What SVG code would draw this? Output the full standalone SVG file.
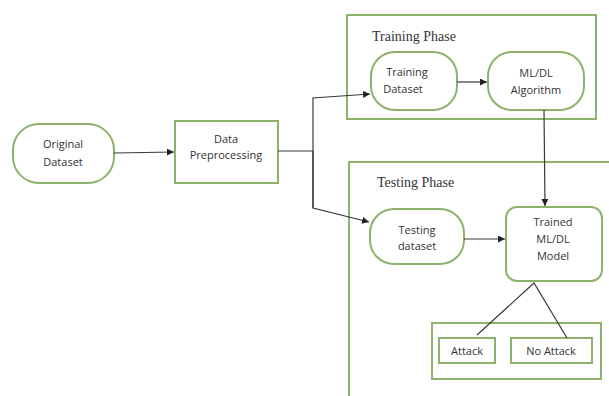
<svg xmlns="http://www.w3.org/2000/svg" width="609" height="396" viewBox="0 0 609 396">
<style>
.n{fill:#fff;stroke:#8db26b;stroke-width:2}
.c{fill:none;stroke:#3a3a3a;stroke-width:1.2}
.t{font-family:"Open Sans","Liberation Sans",sans-serif;font-size:11px;fill:#333;text-anchor:middle}
.h{font-family:"Liberation Serif",serif;font-size:14px;fill:#333}
</style>
<defs>
<marker id="a" viewBox="0 0 10 10" refX="10" refY="5" markerWidth="7" markerHeight="7" orient="auto" markerUnits="userSpaceOnUse">
<path d="M0,0L10,5L0,10z" fill="#222"/>
</marker>
</defs>
<rect width="609" height="396" fill="#fff"/>
<g id="training-phase">
<rect class="n" x="347" y="15" width="249" height="104"/>
<text class="h" x="372" y="41">Training Phase</text>
</g>
<g id="testing-phase">
<rect class="n" x="349" y="162" width="300" height="300"/>
<text class="h" x="377" y="187">Testing Phase</text>
</g>
<g id="original-dataset">
<rect class="n" x="13" y="124" width="101" height="59" rx="26"/>
<text class="t" x="63" y="148">Original</text>
<text class="t" x="63" y="166">Dataset</text>
</g>
<g id="data-preprocessing">
<rect class="n" x="175" y="121" width="103" height="62"/>
<text class="t" x="226" y="143">Data</text>
<text class="t" x="226" y="159">Preprocessing</text>
</g>
<g id="training-dataset">
<rect class="n" x="371" y="52" width="86" height="58" rx="24"/>
<text class="t" x="407" y="76">Training</text>
<text class="t" x="403" y="93">Dataset</text>
</g>
<g id="ml-dl-algorithm">
<rect class="n" x="488" y="52" width="96" height="58" rx="24"/>
<text class="t" x="536" y="77">ML/DL</text>
<text class="t" x="536" y="94">Algorithm</text>
</g>
<g id="testing-dataset">
<rect class="n" x="370" y="209" width="94" height="55" rx="24"/>
<text class="t" x="417" y="234">Testing</text>
<text class="t" x="417" y="250">dataset</text>
</g>
<g id="trained-model">
<rect class="n" x="506" y="207" width="96" height="74" rx="11"/>
<text class="t" x="553" y="226">Trained</text>
<text class="t" x="553" y="243">ML/DL</text>
<text class="t" x="553" y="260">Model</text>
</g>
<g id="outcome">
<rect class="n" x="432" y="323" width="169" height="56"/>
</g>
<g id="attack">
<rect class="n" x="439" y="338" width="56" height="25"/>
<text class="t" x="467" y="355">Attack</text>
</g>
<g id="no-attack">
<rect class="n" x="511" y="338" width="81" height="25"/>
<text class="t" x="551" y="355">No Attack</text>
</g>
<g id="connectors">
<line class="c" x1="114" y1="153" x2="174" y2="152" marker-end="url(#a)"/>
<polyline class="c" points="278,151 313,151"/>
<polyline class="c" points="313,208 313,98 370,94" marker-end="url(#a)"/>
<polyline class="c" points="313,151 313,208 369,222" marker-end="url(#a)"/>
<line class="c" x1="457" y1="82" x2="487" y2="82" marker-end="url(#a)"/>
<line class="c" x1="544" y1="110" x2="545" y2="206" marker-end="url(#a)"/>
<line class="c" x1="464" y1="239" x2="505" y2="239" marker-end="url(#a)"/>
<polyline class="c" points="477,335 534,283 567,338"/>
</g>
</svg>
